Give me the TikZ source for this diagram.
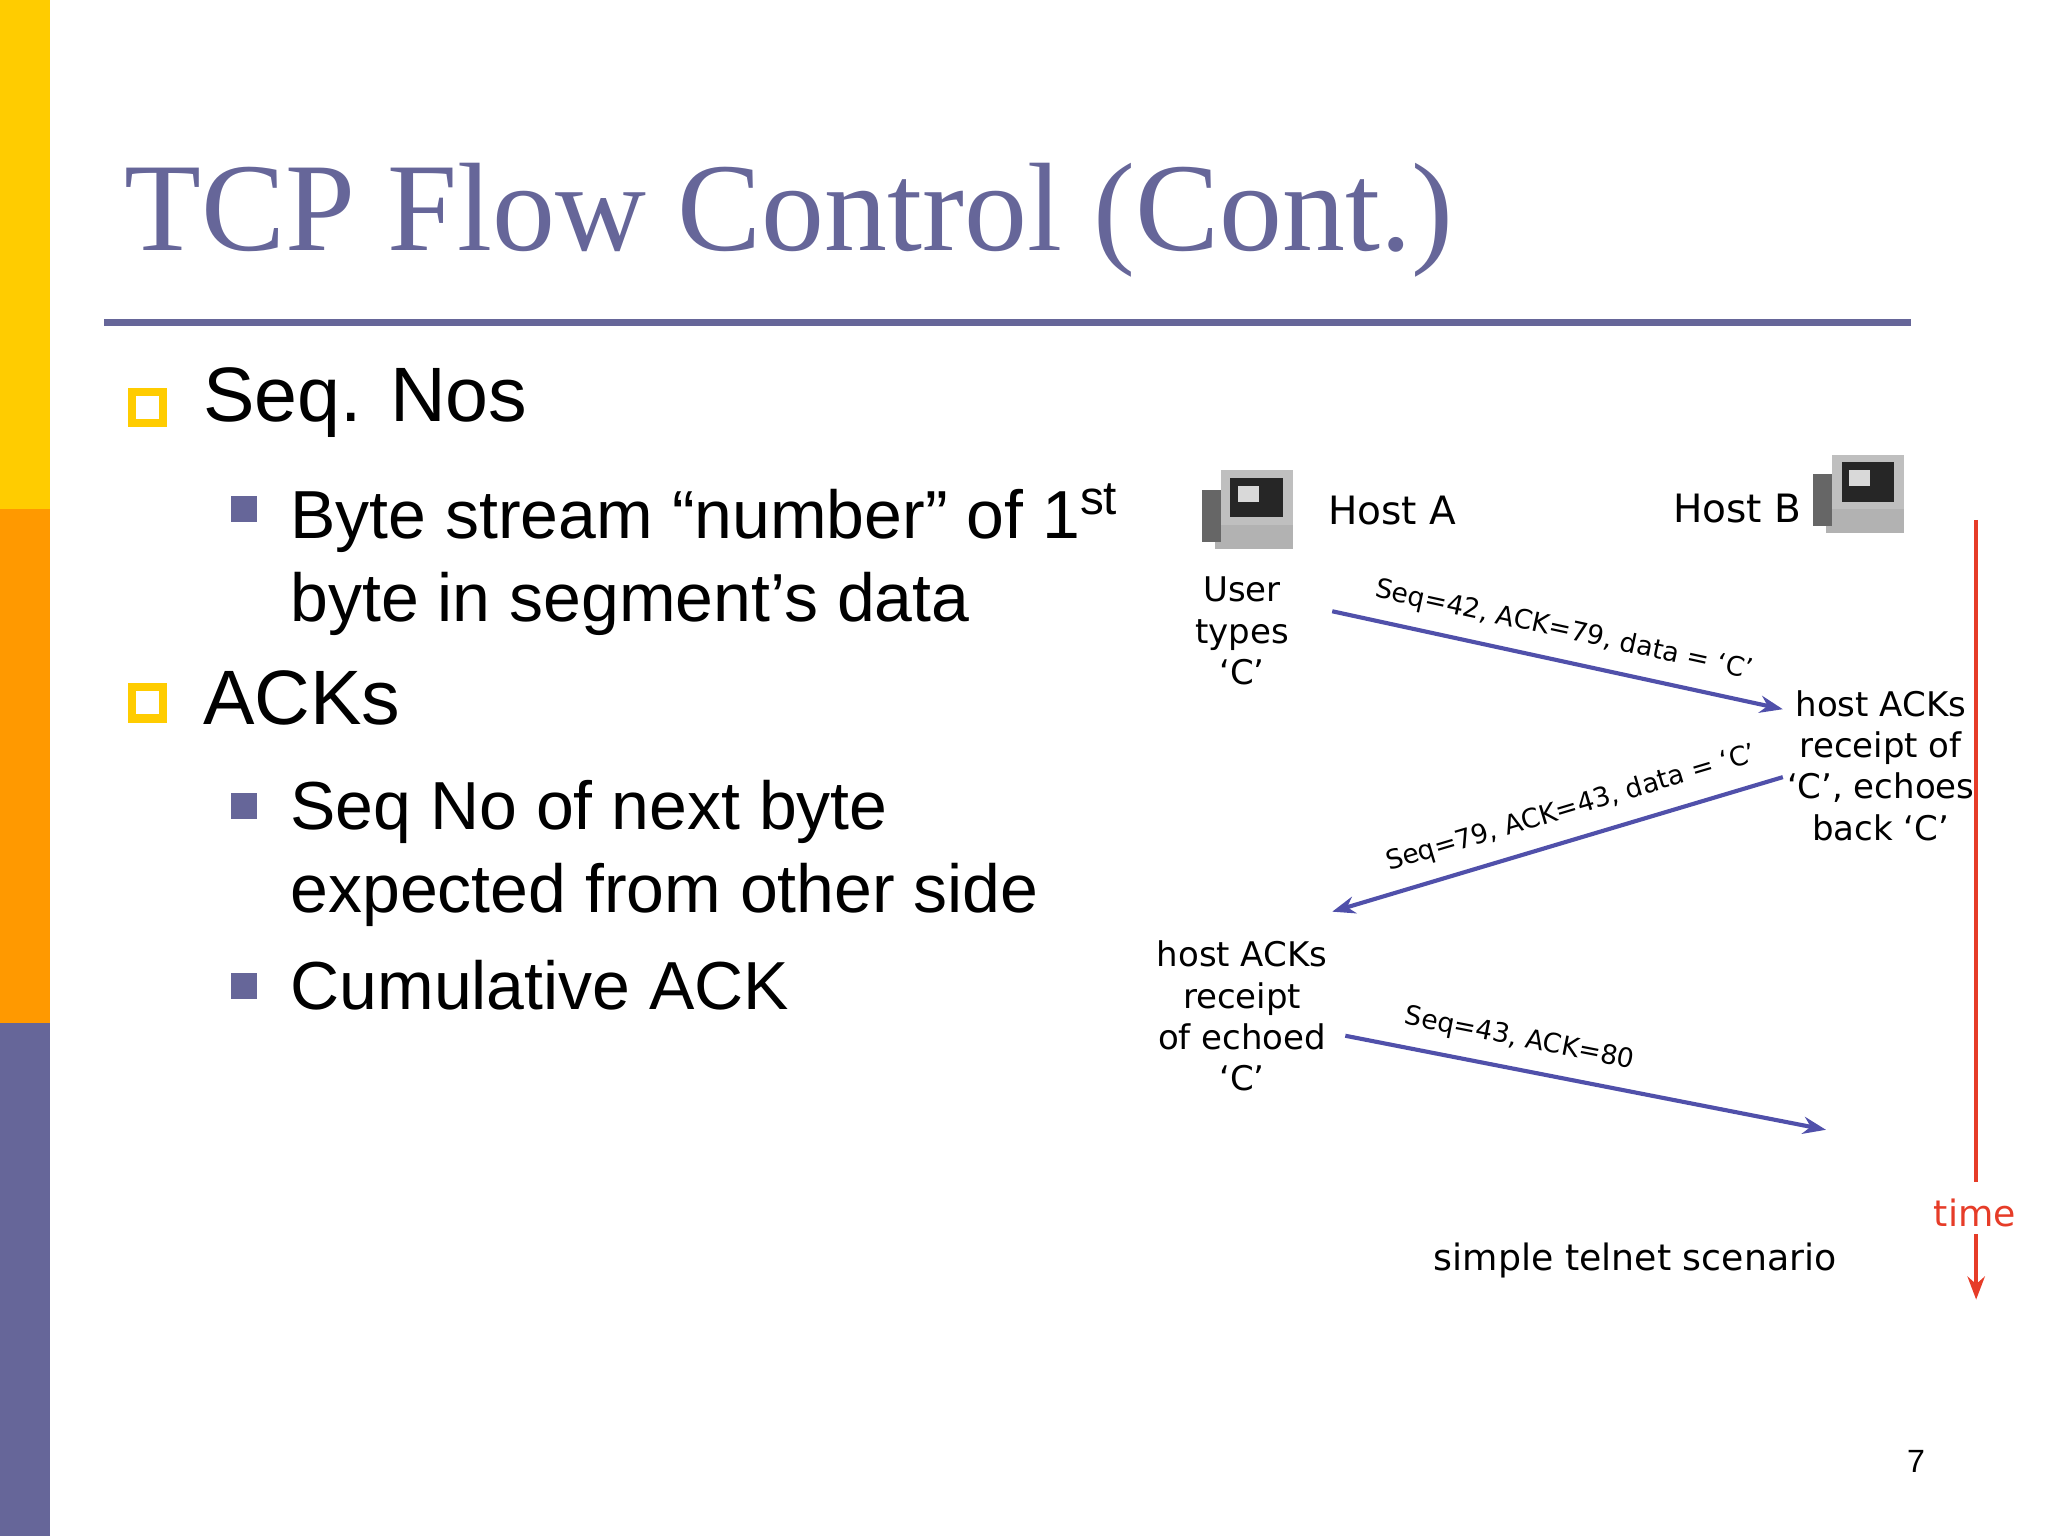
\documentclass[tikz,border=0pt]{standalone}
\usepackage{fontspec}
\setmainfont{Liberation Serif}
\newfontfamily\sansf{Liberation Sans}
\newfontfamily\diagf{DejaVu Sans}
\usetikzlibrary{positioning, arrows.meta}
\definecolor{slate}{RGB}{102,102,153}
\definecolor{barY}{RGB}{255,204,0}
\definecolor{barO}{RGB}{255,153,0}
\definecolor{msg}{RGB}{80,80,170}
\definecolor{tred}{RGB}{230,60,40}
\tikzset{
  bul/.style = {draw=barY, line width=1.8pt, fill=white, minimum size=0.24cm, inner sep=0pt},
  sub/.style = {fill=slate, minimum size=0.2cm, inner sep=0pt},
  top/.style = {anchor=west, font=\sansf\fontsize{16.8}{20}\selectfont},
  low/.style = {anchor=north west, align=left, font=\sansf\fontsize{14.8}{18}\selectfont},
  lbl/.style = {font=\diagf\fontsize{5.8}{7}\selectfont, align=center},
  big/.style = {lbl, font=\diagf\fontsize{7.4}{9}\selectfont},
  seg/.style = {draw=msg, line width=0.9pt, -{Stealth[length=5pt]}},
}
\newcommand{\pcicon}[2]{%
  \begin{scope}[shift={(#1)}]
    \fill[gray!60] (-30,10) rectangle (30,30);
    \fill[gray!80!black] (-40,25) rectangle (-25,-15);
    \fill[gray!50] (-25,-30) rectangle (30,12);
    \fill[black!85] (-18,-24) rectangle (22,6);
    \fill[gray!30] (-12,-18) rectangle (4,-6);
    \node[inner sep=0pt] (#2) at (0,0) {};
  \end{scope}}
\begin{document}
\begin{tikzpicture}[x=0.01cm, y=-0.01cm]
\useasboundingbox (0,0) rectangle (1568,1176);
% side bar
\fill[barY] (0,0) rectangle (38,390);
\fill[barO] (0,390) rectangle (38,783);
\fill[slate] (0,783) rectangle (38,1176);
% title
\node[anchor=base west, text=slate, font=\fontsize{27.4}{30}\selectfont, inner sep=0pt] (title) at (95,192) {TCP Flow Control (Cont.)};
\draw[slate, line width=1.5pt] (80,247) -- (1463,247);
% bullets
\node[bul] (b1) at (113,312) {};
\node[top] (t1) at (143,308) {Seq. Nos};
\node[sub] (s1) at (187,390) {};
\node[low] (u1) at (210,358) {Byte stream “number” of 1\textsuperscript{st}\\byte in segment’s data};
\node[bul] (b2) at (113,538) {};
\node[top] (t2) at (143,534) {ACKs};
\node[sub] (s2) at (187,617) {};
\node[low] (u2) at (210,585) {Seq No of next byte\\expected from other side};
\node[sub] (s3) at (187,755) {};
\node[low] (u3) at (210,723) {Cumulative ACK};
% hosts
\pcicon{960,390}{pcA}
\pcicon{1428,378}{pcB}
\node[lbl, font=\diagf\fontsize{8.5}{10}\selectfont] (hA) at (1066,391) {Host A};
\node[lbl, font=\diagf\fontsize{8.5}{10}\selectfont] (hB) at (1330,389) {Host B};
\node[big] (ua) at (951,483) {User\\types\\‘C’};
\node[big] (rb) at (1440,586) {host ACKs\\receipt of\\‘C’, echoes\\back ‘C’};
\node[big] (ra) at (951,778) {host ACKs\\receipt\\of echoed\\‘C’};
% segments
\coordinate (m1s) at (1020,468); \coordinate (m1e) at (1365,543);
\coordinate (m2s) at (1365,595); \coordinate (m2e) at (1020,698);
\coordinate (m3s) at (1030,793); \coordinate (m3e) at (1398,865);
\draw[seg] (m1s) -- node[lbl, sloped, above] {Seq=42, ACK=79, data = ‘C’} (m1e);
\draw[seg] (m2s) -- node[lbl, sloped, above, pos=0.45] {Seq=79, ACK=43, data = ‘C’} (m2e);
\draw[seg] (m3s) -- node[lbl, sloped, above, pos=0.35] {Seq=43, ACK=80} (m3e);
% time axis
\coordinate (t0) at (1513,398); \coordinate (t1e) at (1513,905);
\coordinate (t2s) at (1513,945); \coordinate (t2e) at (1513,995);
\draw[tred, line width=1pt] (t0) -- (t1e);
\node[lbl, text=tred, font=\diagf\fontsize{7.9}{10}\selectfont] (tm) at (1512,929) {time};
\draw[tred, line width=1pt, -{Stealth[length=5pt]}] (t2s) -- (t2e);
\node[lbl, font=\diagf\fontsize{7.9}{10}\selectfont] (sc) at (1252,965) {simple telnet scenario};
% page number
\node[font=\sansf\fontsize{7}{8}\selectfont] (pg) at (1467,1119) {7};
\end{tikzpicture}
\end{document}
